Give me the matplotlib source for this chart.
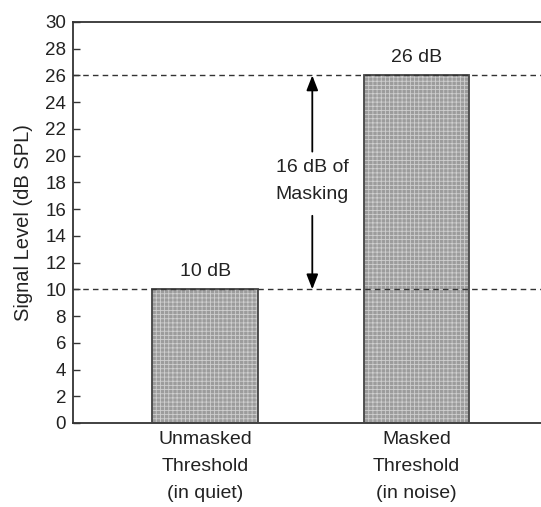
import matplotlib.pyplot as plt

plt.rcParams['font.family'] = ['Liberation Sans', 'DejaVu Sans']
plt.rcParams['hatch.linewidth'] = 0.6

# Thresholds in quiet vs. in noise
categories = ['Unmasked\nThreshold\n(in quiet)', 'Masked\nThreshold\n(in noise)']
levels = [10, 26]
value_labels = ['10 dB', '26 dB']
yticks = list(range(0, 31, 2))

text_color = '#222222'

fig = plt.figure(figsize=(5.41, 5.07), dpi=100)
ax = fig.add_axes([0.135, 0.1657, 0.865, 0.791])

x = list(range(len(levels)))
# grey dotted fill, then the outline on top
ax.bar(x, levels, width=0.5, color='#9c9c9c', edgecolor='#cfcfcf',
       hatch='++++', linewidth=0, zorder=2)
ax.bar(x, levels, width=0.5, fill=False, edgecolor='#444444',
       linewidth=1.3, zorder=3)

# reference lines at both thresholds
for lv in levels:
    ax.axhline(lv, color='#333333', linestyle=(0, (4, 3)), linewidth=1.0, zorder=4)

# value labels above bars
for xi, lv, lab in zip(x, levels, value_labels):
    ax.text(xi, lv + 0.7, lab, ha='center', va='bottom', fontsize=14,
            color=text_color)

# double arrow showing amount of masking
arrow_x = 0.507
diff = levels[1] - levels[0]
mid = (levels[0] + levels[1]) / 2 + 0.1
arrow_kw = dict(arrowstyle='-|>,head_length=0.9,head_width=0.35',
                color='black', lw=1.3, shrinkA=0, shrinkB=0)
ax.annotate('', xy=(arrow_x, levels[1]), xytext=(arrow_x, mid + 2.2),
            arrowprops=arrow_kw, zorder=5)
ax.annotate('', xy=(arrow_x, levels[0]), xytext=(arrow_x, mid - 2.6),
            arrowprops=arrow_kw, zorder=5)
ax.text(arrow_x, mid, f'{diff} dB of\nMasking', ha='center', va='center',
        fontsize=14, color=text_color, linespacing=1.8)

ax.set_xlim(-0.626, 1.59)
ax.set_ylim(0, 30)
ax.set_yticks(yticks)
ax.set_xticks(x)
ax.set_xticklabels(categories, fontsize=14, color=text_color, linespacing=1.75)
ax.tick_params(axis='x', length=0, pad=6)
ax.tick_params(axis='y', direction='in', length=5, width=1, labelsize=13.5,
               labelcolor=text_color, color='#333333', pad=5)
ax.set_ylabel('Signal Level (dB SPL)', fontsize=14.5, color=text_color, labelpad=9)

ax.spines['right'].set_visible(False)
for s in ['left', 'top', 'bottom']:
    ax.spines[s].set_color('#333333')
    ax.spines[s].set_linewidth(1.3)

fig.savefig('out.png', dpi=100)
